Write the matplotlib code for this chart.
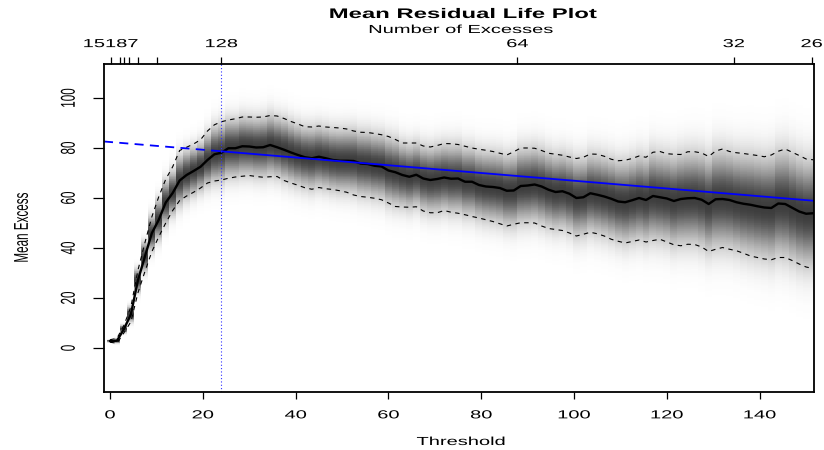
import numpy as np
import matplotlib
matplotlib.use("Agg")
import matplotlib.pyplot as plt
from matplotlib.patheffects import AbstractPathEffect
from matplotlib.transforms import Affine2D
from matplotlib.colors import LinearSegmentedColormap

# thresholds every 1.5 units
threshold = np.arange(0, 152, 1.5)

mean_excess = [2.8, 2.9, 7.6, 13.5, 27.0, 36.5, 45.9, 51.3, 58.2, 62.0,
               67.0, 69.2, 70.8, 72.5, 75.2, 77.5, 78.1, 79.9, 79.9, 80.7,
               80.6, 80.2, 80.3, 81.2, 80.3, 79.3, 78.2, 77.2, 76.3, 75.9,
               76.5, 75.9, 75.2, 74.9, 74.9, 74.8, 73.8, 73.6, 72.9, 72.6,
               71.0, 70.3, 69.2, 68.5, 69.3, 67.8, 67.2, 67.6, 68.2, 67.7,
               67.8, 66.5, 66.5, 65.2, 64.6, 64.4, 64.0, 62.9, 63.0, 64.8,
               65.0, 65.4, 64.6, 63.3, 62.4, 62.7, 61.7, 60.0, 60.3, 61.9,
               61.3, 60.6, 59.7, 58.6, 58.3, 59.1, 60.0, 59.2, 60.8, 60.3,
               59.8, 58.8, 59.6, 59.9, 60.0, 59.3, 57.6, 59.5, 59.6, 59.2,
               58.3, 57.7, 57.3, 56.7, 56.2, 56.0, 57.8, 57.6, 56.1, 54.6,
               53.7, 53.9]

upper_ci = [3.3, 3.9, 9.1, 16.5, 31.0, 42.0, 52.4, 60.5, 67.5, 72.5,
            79.0, 80.3, 81.6, 83.3, 86.8, 89.3, 90.5, 91.2, 91.7, 92.4,
            92.4, 92.3, 92.4, 93.0, 92.8, 91.8, 90.6, 89.6, 88.5, 88.4,
            88.8, 88.4, 88.2, 88.0, 87.6, 86.8, 86.3, 86.2, 85.8, 85.3,
            84.6, 83.4, 82.0, 82.0, 82.0, 80.8, 80.4, 81.0, 81.8, 81.7,
            81.4, 80.7, 80.0, 79.5, 79.1, 78.6, 77.9, 77.2, 78.5, 80.0,
            80.0, 79.9, 79.0, 77.9, 77.5, 77.1, 76.4, 75.8, 76.3, 77.6,
            77.5, 76.7, 75.5, 74.9, 75.1, 75.8, 76.8, 76.3, 78.3, 78.6,
            77.7, 77.5, 77.4, 78.5, 78.5, 78.0, 76.6, 78.8, 79.6, 78.6,
            78.1, 77.8, 77.4, 77.0, 76.5, 77.2, 78.7, 79.6, 78.3, 77.0,
            75.6, 75.3]

lower_ci = [2.3, 1.9, 6.1, 10.5, 22.0, 30.5, 38.5, 44.5, 50.0, 55.0,
            59.0, 60.8, 62.3, 64.0, 66.0, 66.8, 67.2, 67.9, 68.4, 68.7,
            69.0, 68.6, 68.3, 68.5, 68.6, 67.0, 66.0, 65.1, 64.1, 63.5,
            64.2, 63.7, 63.4, 62.9, 62.3, 61.2, 60.6, 60.3, 59.9, 59.3,
            58.0, 56.6, 56.4, 56.3, 56.5, 54.8, 54.1, 54.1, 55.0, 54.3,
            53.9, 53.3, 52.6, 52.0, 51.3, 50.6, 49.7, 48.8, 49.5, 50.1,
            50.1, 50.0, 48.8, 47.8, 47.4, 47.0, 46.0, 44.8, 45.5, 46.3,
            45.7, 44.8, 43.5, 42.7, 42.0, 42.6, 43.2, 42.4, 43.0, 43.5,
            42.4, 41.3, 40.9, 41.5, 41.4, 40.4, 38.6, 39.5, 40.2, 39.5,
            38.9, 37.9, 36.8, 36.2, 35.6, 35.3, 36.2, 36.2, 35.0, 33.6,
            32.4, 31.8]

# linear fit above the chosen threshold
u_chosen = 24
fit_intercept = 82.4
fit_slope = -0.155

# top axis: number of excesses
top_tick_pos = [0.15, 2.16, 3.08, 4.09, 6.1, 10.1, 24.0, 87.8, 134.4, 151.2]
top_tick_lab = ['15187', '', '', '', '', '', '128', '64', '32', '26']

x_ticks = [0, 20, 40, 60, 80, 100, 120, 140]
y_ticks = [0, 20, 40, 60, 80, 100]


class StretchX(AbstractPathEffect):
    # the reference picture is squeezed sideways, glyphs look wide
    def __init__(self, sx=1.72):
        super().__init__()
        self.sx = sx

    def draw_path(self, renderer, gc, tpath, affine, rgbFace=None):
        bb = tpath.get_extents(affine)
        cx = 0.5 * (bb.x0 + bb.x1)
        st = Affine2D().translate(-cx, 0).scale(self.sx, 1).translate(cx, 0)
        renderer.draw_path(gc, tpath, affine + st, rgbFace)


plt.rcParams['font.family'] = ['Liberation Sans', 'DejaVu Sans']

fig = plt.figure(figsize=(8.24, 4.5), dpi=100)
ax = fig.add_axes([104/824, 58/450, 710/824, 328/450])
xl = (-1.3, 151.7)
yl = (-17.6, 113.6)

# grey density strips around the mean
m = np.array(mean_excess)
up = np.array(upper_ci)
lo = np.array(lower_ci)
sd = (up - lo) / (2 * 1.96) * 1.15
h = threshold[1] - threshold[0]
xe = np.concatenate([[threshold[0] - h/2], (threshold[:-1] + threshold[1:]) / 2, [threshold[-1] + h/2]])
ye = np.linspace(yl[0], yl[1], 501)
yc = (ye[:-1] + ye[1:]) / 2
dens = np.exp(-0.5 * ((yc[:, None] - m[None, :]) / sd[None, :])**2)
grey = LinearSegmentedColormap.from_list('grey', ['white', '#3c3c3c'])
ax.pcolormesh(xe, ye, dens, cmap=grey, vmin=0, vmax=1, shading='flat', rasterized=True)

ax.plot(threshold, upper_ci, color='black', lw=0.8, ls=(0, (4, 4)))
ax.plot(threshold, lower_ci, color='black', lw=0.8, ls=(0, (4, 4)))
ax.plot(threshold, mean_excess, color='black', lw=1.7)

fx = np.array([xl[0], u_chosen, xl[1]])
fy = fit_intercept + fit_slope * fx
ax.plot(fx[:2], fy[:2], color='blue', lw=1.3, ls=(0, (5, 3.5)))
ax.plot(fx[1:], fy[1:], color='blue', lw=1.3)
ax.axvline(u_chosen, color='#3030ff', lw=0.8, ls=(0, (1, 2)))

ax.set_xlim(xl)
ax.set_ylim(yl)
ax.set_xticks(x_ticks)
ax.set_yticks(y_ticks)
ax.tick_params(axis='x', length=5, width=0.9, pad=7.5, labelsize=8.4)
ax.tick_params(axis='y', length=8, width=0.9, pad=13, labelsize=8.4, labelrotation=90)
for lab in ax.get_yticklabels():
    lab.set_verticalalignment('center')
for s in ax.spines.values():
    s.set_linewidth(1.3)

ax2 = ax.twiny()
ax2.set_xlim(xl)
ax2.set_xticks(top_tick_pos)
ax2.set_xticklabels(top_tick_lab)
ax2.tick_params(axis='x', length=5, width=0.9, pad=5, labelsize=8.4)
for s in ax2.spines.values():
    s.set_visible(False)

fig.text(463/824, 1 - 18/450, 'Mean Residual Life Plot', ha='center', va='baseline',
         fontsize=10, fontweight='bold')
fig.text(461/824, 1 - 33/450, 'Number of Excesses', ha='center', va='baseline', fontsize=8.4)
fig.text(461/824, 1 - 445/450, 'Threshold', ha='center', va='baseline', fontsize=8.4)
fig.text(22/824, 1 - 227.5/450, 'Mean Excess', rotation=90, ha='center', va='center', fontsize=8.4)

for t in fig.texts + ax.get_xticklabels() + ax.get_yticklabels() + ax2.get_xticklabels():
    t.set_path_effects([StretchX(1.72)])

fig.savefig('out.png', dpi=100)
